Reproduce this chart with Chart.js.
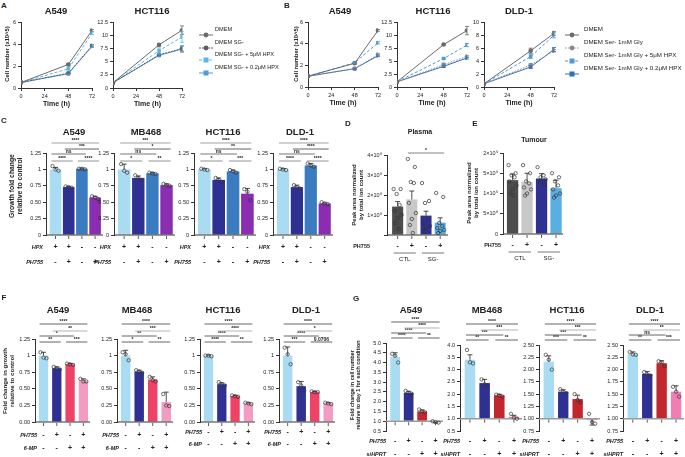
<!DOCTYPE html>
<html>
<head>
<meta charset="utf-8">
<script src="https://cdn.jsdelivr.net/npm/chart.js@4.4.0/dist/chart.umd.min.js"></script>
<style>
body{margin:0;background:#fff;width:685px;height:457px;position:relative;overflow:hidden;font-family:'Liberation Sans',Arial,sans-serif;color:#222}
.box{position:absolute}
.t{position:absolute;white-space:pre;line-height:1.15;text-align:center}
</style>
</head>
<body>
<script>
// ---- data ----
const timeH = [0, 48, 72];
const namesA = ['DMEM', 'DMEM SG-', 'DMEM SG- + 5μM HPX', 'DMEM SG- + 0.2μM HPX'];
const namesB = ['DMEM', 'DMEM Ser- 1mM Gly', 'DMEM Ser- 1mM Gly + 5μM HPX', 'DMEM Ser- 1mM Gly + 0.2μM HPX'];

const aA549 = [[0.5, 2.15, 5.25], [0.5, 1.35, 3.85], [0.5, 1.75, 5.0], [0.5, 1.3, 3.8]];
const aA549Err = [[0, 0.08, 0.1], [0, 0.05, 0.1], [0, 0.1, 0.12], [0, 0.05, 0.1]];
const aHCT = [[1.0, 8.2, 11.0], [1.0, 6.3, 7.5], [1.0, 7.1, 9.7], [1.0, 6.2, 7.4]];
const aHCTErr = [[0, 0.2, 0.8], [0, 0.3, 0.5], [0, 0.5, 1.0], [0, 0.2, 0.6]];

const bA549 = [[1, 2.2, 5.25], [1, 1.7, 3.0], [1, 2.25, 4.1], [1, 1.7, 2.9]];
const bA549Err = [[0, 0.05, 0.08], [0, 0.05, 0.1], [0, 0.05, 0.1], [0, 0.05, 0.08]];
const bHCT = [[1, 8.2, 10.9], [1, 4.3, 5.9], [1, 5.5, 8.1], [1, 4.0, 5.6]];
const bHCTErr = [[0, 0.1, 0.8], [0, 0.3, 0.2], [0, 0.1, 0.3], [0, 0.2, 0.2]];
const bDLD = [[0.5, 5.6, 8.3], [0.5, 3.4, 5.6], [0.5, 4.7, 8.0], [0.5, 3.1, 5.8]];
const bDLDErr = [[0, 0.4, 0.3], [0, 0.2, 0.2], [0, 0.3, 0.4], [0, 0.2, 0.3]];

const cells = ['A549', 'MB468', 'HCT116', 'DLD-1'];
// significance pairs: [bar i, bar j, level]; labels per chart in order 1-2, 3-4, 1-3, 2-4, 1-4
const sigPairs = [[0, 1, 0], [2, 3, 0], [0, 2, 1], [1, 3, 2], [0, 3, 3]];

const cMeans = [[1.0, 0.73, 1.01, 0.57], [1.0, 0.87, 0.94, 0.76], [1.0, 0.84, 0.97, 0.63], [1.0, 0.73, 1.06, 0.48]];
const cErr = [[0.03, 0.01, 0.01, 0.02], [0.08, 0.03, 0.01, 0.02], [0.01, 0.03, 0.02, 0.08], [0.01, 0.03, 0.03, 0.01]];
const cPts = [
  [[1.05, 1.0, 0.98], [0.74, 0.73, 0.72], [1.01, 1.01, 1.0], [0.59, 0.57, 0.55]],
  [[1.08, 0.98, 0.95], [0.91, 0.87, 0.84], [0.95, 0.94, 0.93], [0.78, 0.76, 0.75]],
  [[1.01, 1.0, 0.99], [0.87, 0.84, 0.81], [0.99, 0.97, 0.95], [0.7, 0.66, 0.53]],
  [[1.01, 1.0, 0.99], [0.76, 0.73, 0.71], [1.09, 1.06, 1.04], [0.5, 0.48, 0.47]]
];
const cSig = [
  ['****', '****', 'ns', '***', '****'],
  ['*', '**', 'ns', '*', '***'],
  ['*', '***', 'ns', '**', '****'],
  ['****', '****', 'ns', '****', '****']
];
const hpxSigns = ['+', '+', '-', '-'];
const ph755Signs = ['-', '+', '-', '+'];
const secondSigns = ['-', '-', '+', '+'];

const dMeans = [1.42e8, 1.78e8, 0.97e8, 0.62e8];
const dErr = [0.25e8, 0.42e8, 0.22e8, 0.24e8];
const dPts = [
  [2.3e8, 2.3e8, 2.05e8, 1.5e8, 1.2e8, 1.0e8, 0.85e8, 0.6e8, 0.3e8],
  [3.8e8, 3.4e8, 2.65e8, 2.6e8, 1.6e8, 1.1e8, 0.8e8, 0.5e8, 0.1e8],
  [2.6e8, 1.7e8, 1.6e8, 0.8e8, 0.6e8, 0.45e8, 0.35e8, 0.2e8],
  [2.1e8, 1.9e8, 0.6e8, 0.45e8, 0.35e8, 0.25e8, 0.2e8, 0.1e8]
];
const eMeans = [1.33e9, 1.28e9, 1.37e9, 1.13e9];
const eErr = [0.15e9, 0.22e9, 0.12e9, 0.2e9];
const ePts = [
  [1.7e9, 1.5e9, 1.45e9, 1.4e9, 1.3e9, 1.2e9, 1.1e9, 1.0e9, 0.95e9],
  [1.7e9, 1.5e9, 1.3e9, 1.25e9, 1.15e9, 1.1e9, 1.0e9, 0.95e9],
  [1.65e9, 1.45e9, 1.4e9, 1.35e9, 1.3e9, 1.25e9, 1.2e9],
  [1.5e9, 1.4e9, 1.3e9, 1.2e9, 1.1e9, 1.0e9, 0.95e9, 0.9e9]
];
const groupNames = ['CTL', 'SG-'];

const fMeans = [[1.0, 0.81, 0.87, 0.62], [1.0, 0.76, 0.64, 0.30], [1.0, 0.57, 0.39, 0.28], [1.0, 0.54, 0.45, 0.28]];
const fErr = [[0.05, 0.02, 0.01, 0.03], [0.08, 0.02, 0.04, 0.15], [0.01, 0.02, 0.01, 0.01], [0.13, 0.07, 0.01, 0.01]];
const fPts = [
  [[1.05, 0.97, 0.96], [0.83, 0.81, 0.79], [0.88, 0.87, 0.86], [0.65, 0.61, 0.61]],
  [[1.05, 1.02, 0.93], [0.78, 0.76, 0.74], [0.68, 0.63, 0.61], [0.42, 0.25, 0.24]],
  [[1.0, 1.0, 0.99], [0.6, 0.57, 0.55], [0.4, 0.39, 0.38], [0.29, 0.28, 0.27]],
  [[1.12, 1.02, 0.87], [0.6, 0.55, 0.47], [0.46, 0.45, 0.45], [0.29, 0.28, 0.27]]
];
const fSig = [
  ['**', '***', '*', '**', '****'],
  ['*', '**', '**', '***', '****'],
  ['****', '**', '****', '****', '****'],
  ['***', '0.0706', '****', '*', '****']
];

const gMeans = [[4.3, 2.45, 1.5, 0.95], [3.4, 2.45, 1.95, 1.08], [2.16, 1.55, 1.40, 0.97], [2.32, 1.91, 2.13, 1.55]];
const gErr = [[0.2, 0.08, 0.08, 0.03], [0.2, 0.15, 0.04, 0.06], [0.12, 0.04, 0.08, 0.1], [0.04, 0.05, 0.05, 0.12]];
const gPts = [
  [[4.45, 4.35, 4.0], [2.55, 2.45, 2.4], [1.6, 1.5, 1.45], [1.0, 0.95, 0.93]],
  [[3.8, 3.3, 3.25], [2.6, 2.4, 2.35], [1.98, 1.95, 1.9], [1.2, 1.05, 1.0]],
  [[2.3, 2.2, 2.0], [1.6, 1.55, 1.52], [1.5, 1.38, 1.33], [1.1, 0.93, 0.9]],
  [[2.36, 2.31, 2.3], [1.95, 1.9, 1.88], [2.17, 2.15, 2.07], [1.65, 1.55, 1.45]]
];
const gSig = [
  ['****', '**', '****', '****', '****'],
  ['**', '**', '***', '***', '****'],
  ['***', '**', '***', '***', '****'],
  ['**', '***', 'ns', '**', '****']
];
const gAxis = [[0.5, 5.0, 0.5], [0.5, 4.0, 0.5], [0.75, 2.5, 0.25], [0.75, 2.5, 0.25]];

// ---- helpers ----
const FF = "'Liberation Sans', Arial, sans-serif";
Chart.defaults.font.family = FF;
Chart.defaults.font.size = 5.5;
Chart.defaults.color = '#222';
Chart.defaults.animation = false;

function txt(x, y, s, o = {}) {
  const d = document.createElement('div');
  d.className = 't';
  d.textContent = s;
  d.style.left = x + 'px';
  d.style.top = y + 'px';
  d.style.fontSize = (o.size || 6) + 'px';
  if (o.bold) d.style.fontWeight = 'bold';
  let tr = o.align === 'l' ? 'translate(0,-50%)' : 'translate(-50%,-50%)';
  if (o.rot) tr += ' rotate(-90deg)';
  d.style.transform = tr;
  document.body.appendChild(d);
}

function mount(x0, y0, x1, y1, m) {
  const d = document.createElement('div');
  d.className = 'box';
  d.style.left = (x0 - m.l) + 'px';
  d.style.top = (y0 - m.t) + 'px';
  d.style.width = (x1 - x0 + m.l + m.r) + 'px';
  d.style.height = (y1 - y0 + m.t + m.b) + 'px';
  const c = document.createElement('canvas');
  d.appendChild(c);
  document.body.appendChild(d);
  return c;
}

const JIT = {3: [-3, 0, 3], 7: [-4, 2, -1, 4, -3, 1, 3], 8: [-4, 3, -1, 2, -3, 4, 0, -2], 9: [-4, 3, -1, 2, -3, 4, 0, -2, 1]};

function decor(p) {
  return {
    id: 'decor',
    afterDatasetsDraw(chart) {
      const ctx = chart.ctx, xs = chart.scales.x, ys = chart.scales.y, ca = chart.chartArea;
      const X = i => xs.getPixelForValue(i), Y = v => ys.getPixelForValue(v);
      const base = p.base !== undefined ? p.base : p.yMin;
      const by = Y(base);
      ctx.save();
      // x axis line + tick marks
      ctx.strokeStyle = p.base !== undefined ? '#9a9a9a' : '#333';
      ctx.lineWidth = p.base !== undefined ? 1.6 : 1;
      ctx.beginPath(); ctx.moveTo(ca.left, by); ctx.lineTo(ca.right, by); ctx.stroke();
      ctx.strokeStyle = '#333'; ctx.lineWidth = 0.8;
      p.vals.forEach((v, i) => { ctx.beginPath(); ctx.moveTo(X(i), by + 1); ctx.lineTo(X(i), by + 4); ctx.stroke(); });
      // error bars
      ctx.strokeStyle = '#222'; ctx.lineWidth = 0.8;
      p.vals.forEach((v, i) => {
        const dir = v >= base ? 1 : -1;
        const y1 = Y(v + dir * p.err[i]);
        ctx.beginPath();
        ctx.moveTo(X(i), Y(v)); ctx.lineTo(X(i), y1);
        ctx.moveTo(X(i) - 2.5, y1); ctx.lineTo(X(i) + 2.5, y1);
        ctx.stroke();
      });
      // replicates
      ctx.strokeStyle = '#333'; ctx.lineWidth = 0.7;
      p.pts.forEach((arr, i) => arr.forEach((v, k) => {
        ctx.beginPath(); ctx.arc(X(i) + JIT[arr.length][k], Y(v), 1.7, 0, Math.PI * 2); ctx.stroke();
      }));
      // significance
      ctx.fillStyle = '#222';
      (p.sig || []).forEach(([i, j, lv, lab]) => {
        const y = ca.top + p.sigY[lv];
        ctx.strokeStyle = p.sigCol[lv]; ctx.lineWidth = 0.9;
        ctx.beginPath(); ctx.moveTo(X(i) - 4, y); ctx.lineTo(X(j) + 4, y); ctx.stroke();
        ctx.font = 'bold 5px ' + FF; ctx.textAlign = 'center'; ctx.textBaseline = 'bottom';
        ctx.fillText(lab, (X(i) + X(j)) / 2, y - 0.3);
      });
      // condition rows
      ctx.textBaseline = 'middle';
      (p.rows || []).forEach((r, k) => {
        const y = ca.bottom + p.rowY[k];
        ctx.font = (r.plain ? '' : 'italic ') + 'bold 5.5px ' + FF; ctx.textAlign = 'right';
        ctx.fillText(r.name, ca.left - p.nameGap, y);
        ctx.font = 'bold 7px ' + FF; ctx.textAlign = 'center';
        r.signs.forEach((s, i) => ctx.fillText(s, X(i), y));
      });
      // group labels
      (p.groups || []).forEach((g, k) => {
        const x0 = X(g[0]) - 4, x1 = X(g[1]) + 4;
        ctx.strokeStyle = '#555'; ctx.lineWidth = 0.8;
        ctx.beginPath(); ctx.moveTo(x0, ca.bottom + 18); ctx.lineTo(x1, ca.bottom + 18); ctx.stroke();
        ctx.font = '6px ' + FF; ctx.textAlign = 'center';
        ctx.fillText(groupNames[k], (x0 + x1) / 2, ca.bottom + 24);
      });
      ctx.restore();
    }
  };
}

const BM = {l: 48, t: 34, r: 4, b: 36};
function barChart(g, p) {
  const YW = 20;
  const c = mount(g[0], g[2], g[1], g[3], BM);
  return new Chart(c, {
    type: 'bar',
    data: {datasets: [{
      data: p.vals.map((v, i) => ({x: i, y: v})),
      backgroundColor: p.colors,
      borderWidth: 0,
      barPercentage: p.bp,
      categoryPercentage: 1,
      base: p.base
    }]},
    options: {
      responsive: true, maintainAspectRatio: false, animation: false,
      layout: {autoPadding: false, padding: {left: BM.l - YW, top: BM.t, right: BM.r, bottom: BM.b}},
      plugins: {legend: {display: false}, tooltip: {enabled: false}},
      scales: {
        x: {type: 'linear', min: p.xMin, max: p.xMax, offset: false, display: false},
        y: {
          min: p.yMin, max: p.yMax,
          afterFit: s => { s.width = YW; },
          ticks: {stepSize: p.step, callback: p.fmt, padding: 2, font: {size: 5.5}, color: '#222'},
          grid: {drawOnChartArea: false, drawTicks: true, tickLength: 3, tickColor: '#333'},
          border: {color: '#333'}
        }
      }
    },
    plugins: [decor(p)]
  });
}

const STA = [
  {col: '#6b6b6b', dash: [], pt: 'circle', r: 2.3},
  {col: '#5c5c5c', dash: [2, 1], pt: 'circle', r: 2.3},
  {col: '#5ab6ea', dash: [3, 2], pt: 'rect', r: 2.5},
  {col: '#4a9ddc', dash: [], pt: 'rect', r: 2.5}
];
const STB = [
  {col: '#6b6b6b', dash: [], pt: 'circle', r: 2.3},
  {col: '#8a8a8a', dash: [1.5, 1.5], pt: 'circle', r: 2.3},
  {col: '#4f98de', dash: [3, 2], pt: 'rect', r: 2.5},
  {col: '#2f6fc0', dash: [], pt: 'rect', r: 2.5}
];

function lineChart(g, series, errs, names, st, yMax, step) {
  const m = {l: 24, t: 4, r: 8, b: 22};
  const YW = 16, XH = 20;
  const c = mount(g[0], g[2], g[1], g[3], m);
  new Chart(c, {
    type: 'line',
    data: {datasets: series.map((ys, k) => ({
      label: names[k],
      data: ys.map((v, i) => ({x: timeH[i], y: v})),
      borderColor: st[k].col, backgroundColor: st[k].col,
      borderDash: st[k].dash, borderWidth: 1,
      pointStyle: st[k].pt, pointRadius: st[k].r, pointBorderWidth: 0
    }))},
    options: {
      responsive: true, maintainAspectRatio: false, animation: false,
      layout: {autoPadding: false, padding: {left: m.l - YW, top: m.t, right: m.r, bottom: m.b - XH}},
      plugins: {legend: {display: false}, tooltip: {enabled: false}},
      scales: {
        x: {
          type: 'linear', min: 0, max: 72,
          afterFit: s => { s.height = XH; },
          ticks: {stepSize: 24, padding: 2, maxRotation: 0, font: {size: 5.5}, color: '#222'},
          grid: {drawOnChartArea: false, tickLength: 3, tickColor: '#333'},
          border: {color: '#333'},
          title: {display: true, text: 'Time (h)', font: {size: 7, weight: 'bold'}, padding: 0, color: '#222'}
        },
        y: {
          min: 0, max: yMax,
          afterFit: s => { s.width = YW; },
          ticks: {stepSize: step, padding: 2, font: {size: 5.5}, color: '#222'},
          grid: {drawOnChartArea: false, tickLength: 3, tickColor: '#333'},
          border: {color: '#333'}
        }
      }
    },
    plugins: [{
      id: 'errs',
      afterDatasetsDraw(chart) {
        const ctx = chart.ctx, xs = chart.scales.x, ys = chart.scales.y;
        ctx.save();
        ctx.lineWidth = 0.8;
        series.forEach((s, k) => s.forEach((v, i) => {
          const e = errs[k][i];
          if (!e) return;
          const x = xs.getPixelForValue(timeH[i]), y0 = ys.getPixelForValue(v - e), y1 = ys.getPixelForValue(v + e);
          ctx.strokeStyle = st[k].col;
          ctx.beginPath();
          ctx.moveTo(x, y0); ctx.lineTo(x, y1);
          ctx.moveTo(x - 2, y0); ctx.lineTo(x + 2, y0);
          ctx.moveTo(x - 2, y1); ctx.lineTo(x + 2, y1);
          ctx.stroke();
        }));
        ctx.restore();
      }
    }]
  });
}

function legend(x, rowsY, textX, names, st, size) {
  names.forEach((n, k) => {
    const d = document.createElement('div');
    d.className = 'box';
    d.style.left = x + 'px';
    d.style.top = (rowsY[k] - 4) + 'px';
    const dash = st[k].dash.length ? st[k].dash.join(' ') : 'none';
    const mk = st[k].pt === 'circle'
      ? `<circle cx="7" cy="4" r="2.4" fill="${st[k].col}"/>`
      : `<rect x="4.5" y="1.5" width="5" height="5" fill="${st[k].col}"/>`;
    d.innerHTML = `<svg width="14" height="8"><line x1="0" y1="4" x2="14" y2="4" stroke="${st[k].col}" stroke-width="1" stroke-dasharray="${dash}"/>${mk}</svg>`;
    document.body.appendChild(d);
    txt(textX, rowsY[k], n, {size: size, align: 'l'});
  });
}

// ---- panel A ----
txt(4, 6, 'A', {size: 8, bold: true});
lineChart([21, 92, 21, 88], aA549, aA549Err, namesA, STA, 6, 2);
lineChart([113, 182, 21, 88], aHCT, aHCTErr, namesA, STA, 12.5, 2.5);
txt(56, 11, 'A549', {size: 9.5, bold: true});
txt(152, 11, 'HCT116', {size: 9.5, bold: true});
txt(7, 54, 'Cell number (x10^5)', {size: 5.8, bold: true, rot: true});
legend(199, [29, 42, 54, 67], 215, namesA, STA, 5.6);

// ---- panel B ----
txt(287, 6, 'B', {size: 8, bold: true});
lineChart([308, 378, 21, 87], bA549, bA549Err, namesB, STB, 6, 2);
lineChart([397, 467, 21, 87], bHCT, bHCTErr, namesB, STB, 12.5, 2.5);
lineChart([484, 554, 21, 87], bDLD, bDLDErr, namesB, STB, 10, 2);
txt(340, 11, 'A549', {size: 9.5, bold: true});
txt(433, 11, 'HCT116', {size: 9.5, bold: true});
txt(519, 11, 'DLD-1', {size: 9.5, bold: true});
txt(296, 54, 'Cell number (x10^5)', {size: 5.8, bold: true, rot: true});
legend(565, [29, 42, 55, 68], 584, namesB, STB, 6.2);

// ---- panel C ----
const geoC = [[46, 103, 153, 235], [114, 175, 153, 235], [194, 256, 153, 235], [273, 333, 153, 235]];
const titleC = [74, 146, 223, 300];
const fmtC = v => ({0: '0', 0.25: '0.25', 0.5: '0.50', 0.75: '0.75', 1: '1', 1.25: '1.25'})[v];
txt(4, 121, 'C', {size: 8, bold: true});
cells.forEach((name, k) => {
  barChart(geoC[k], {
    vals: cMeans[k], err: cErr[k], pts: cPts[k],
    colors: ['#a9dbf3', '#2e3192', '#3b7cc0', '#8a2db0'],
    yMin: 0, yMax: 1.25, step: 0.25, fmt: fmtC,
    xMin: -0.72, xMax: 3.6, bp: 0.88,
    sig: sigPairs.map((s, i) => [...s, cSig[k][i]]),
    sigY: [8, 1, -4, -10], sigCol: ['#888', '#666', '#555', '#999'],
    rows: [{name: 'HPX', signs: hpxSigns}, {name: 'PH755', signs: ph755Signs}],
    rowY: [12, 27], nameGap: 3
  });
  txt(titleC[k], 132, name, {size: 9.5, bold: true});
});
txt(16, 186, 'Growth fold change\nrelative to control', {size: 6.8, bold: true, rot: true});

// ---- panel D ----
txt(348, 124, 'D', {size: 8, bold: true});
barChart([387, 448, 155, 235], {
  vals: dMeans, err: dErr, pts: dPts,
  colors: ['#4d4d4d', '#c8c8c8', '#2e3192', '#5aafe2'],
  yMin: 0, yMax: 4e8, step: 1e8, fmt: v => v === 0 ? '' : (v / 1e8) + '×10⁸',
  xMin: -0.75, xMax: 3.55, bp: 0.78,
  sig: [[1, 3, 0, '*']], sigY: [-2], sigCol: ['#777'],
  rows: [{name: 'PH755', signs: ph755Signs, plain: true}], rowY: [11], nameGap: 17,
  groups: [[0, 1], [2, 3]]
});
txt(420, 132, 'Plasma', {size: 7, bold: true});
txt(358, 195, 'Peak area normalized\nby total ion count', {size: 6, bold: true, rot: true});

// ---- panel E ----
txt(475, 124, 'E', {size: 8, bold: true});
const fmtE = v => ({0: '0', 5e8: '5×10⁸', 1e9: '1×10⁹', 1.5e9: '1.5×10⁹', 2e9: '2×10⁹'})[v];
barChart([503, 563, 153, 234], {
  vals: eMeans, err: eErr, pts: ePts,
  colors: ['#4d4d4d', '#c8c8c8', '#2e3192', '#5aafe2'],
  yMin: 0, yMax: 2e9, step: 5e8, fmt: fmtE,
  xMin: -0.66, xMax: 3.48, bp: 0.78,
  rows: [{name: 'PH755', signs: ph755Signs, plain: true}], rowY: [11], nameGap: 2,
  groups: [[0, 1], [2, 3]]
});
txt(534, 140, 'Tumour', {size: 7, bold: true});
txt(473, 193, 'Peak area normalized\nby total ion count', {size: 6, bold: true, rot: true});

// ---- panel F ----
const geoF = [[35, 90, 339, 422], [117, 173, 339, 422], [200, 255, 339, 422], [279, 335, 339, 422]];
const titleF = [58, 137, 223, 306];
const rowsF = [[13, 26], [13, 26], [10, 22], [10, 22]];
const fmtF = v => ({0: '0.00', 0.25: '0.25', 0.5: '0.50', 0.75: '0.75', 1: '1', 1.25: '1.25'})[v];
txt(4, 298, 'F', {size: 8, bold: true});
cells.forEach((name, k) => {
  barChart(geoF[k], {
    vals: fMeans[k], err: fErr[k], pts: fPts[k],
    colors: ['#a9dbf3', '#2e3192', '#ee4266', '#f29bc3'],
    yMin: 0, yMax: 1.25, step: 0.25, fmt: fmtF,
    xMin: -0.64, xMax: 3.5, bp: 0.7,
    sig: sigPairs.map((s, i) => [...s, fSig[k][i]]),
    sigY: [3, -3, -8, -15], sigCol: ['#555', '#555', '#aaa', '#555'],
    rows: [{name: 'PH755', signs: ph755Signs}, {name: '6-MP', signs: secondSigns}],
    rowY: rowsF[k], nameGap: -2
  });
  txt(titleF[k], 310, name, {size: 9.5, bold: true});
});
txt(8, 381, 'Fold change in growth\nrelative to control', {size: 6.2, bold: true, rot: true});

// ---- panel G ----
const geoG = [[386, 443, 343, 431], [460, 522, 345, 431], [539, 600, 345, 431], [623, 684, 345, 431]];
const titleG = [411, 487, 567, 650];
txt(356, 299, 'G', {size: 8, bold: true});
cells.forEach((name, k) => {
  const [lo, hi, st] = gAxis[k];
  barChart(geoG[k], {
    vals: gMeans[k], err: gErr[k], pts: gPts[k],
    colors: ['#a9dbf3', '#2e3192', '#c1272d', '#f07db3'],
    yMin: lo, yMax: hi, step: st, fmt: v => v.toFixed(st < 0.5 ? 2 : 1),
    base: 1,
    xMin: -0.68, xMax: 3.55, bp: 0.72,
    sig: sigPairs.map((s, i) => [...s, gSig[k][i]]),
    sigY: [-5, -10, -15, -21], sigCol: ['#555', '#555', '#aaa', '#555'],
    rows: [{name: 'PH755', signs: ph755Signs}, {name: 'siHPRT', signs: secondSigns}],
    rowY: [10, 23], nameGap: 0
  });
  txt(titleG[k], 310, name, {size: 9.5, bold: true});
});
txt(355, 385, 'Fold change in cell number\nrelative to day 1 for each condition', {size: 5.4, bold: true, rot: true});
</script>
</body>
</html>
